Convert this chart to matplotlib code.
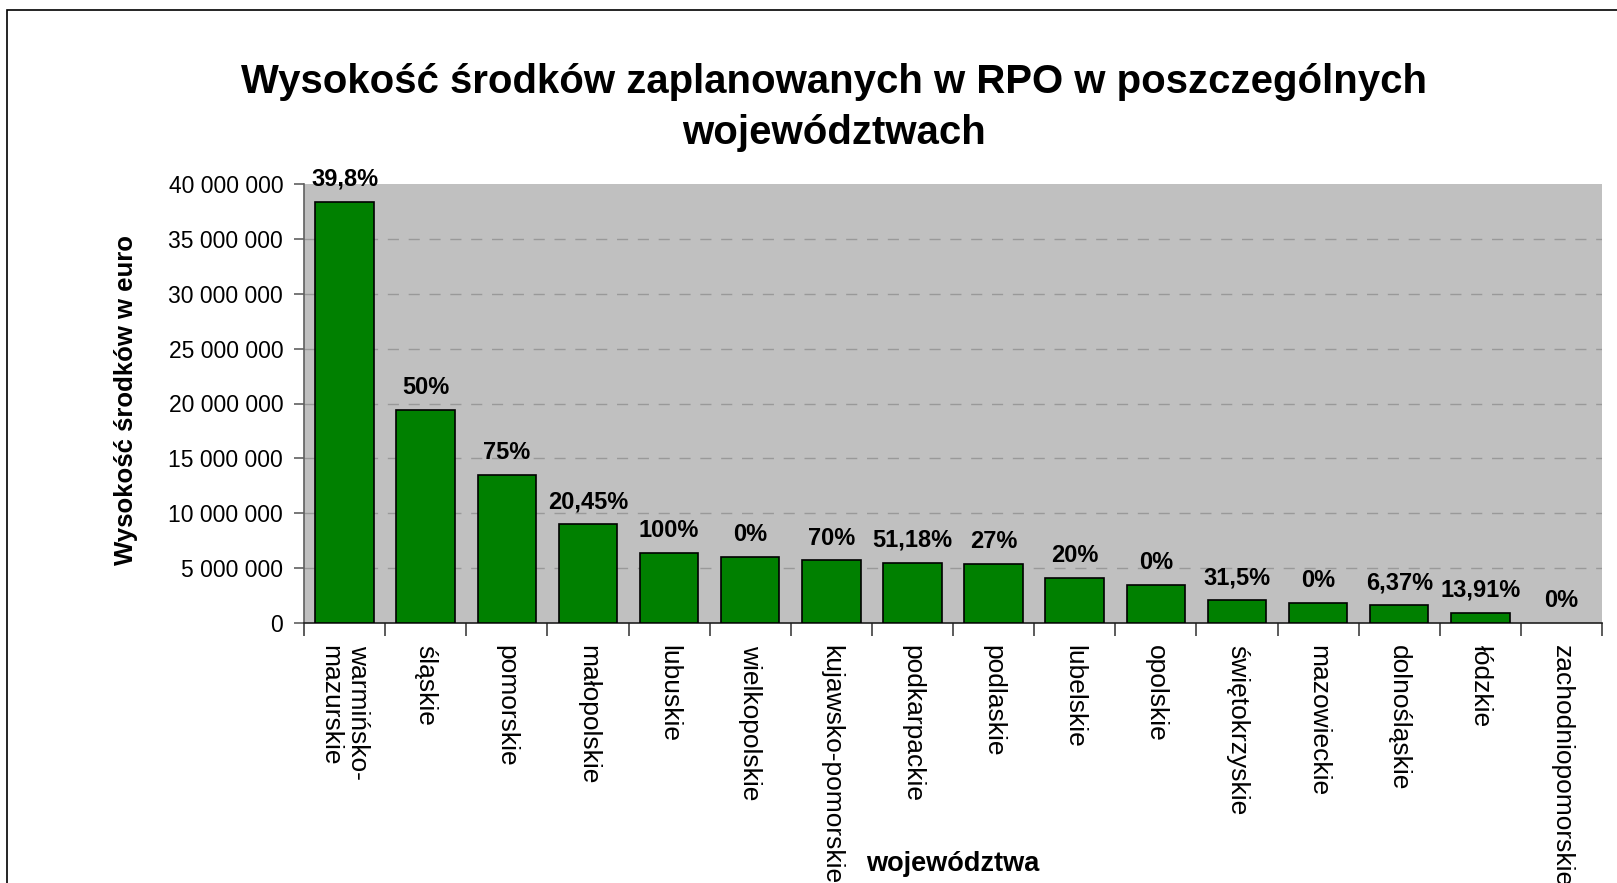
import matplotlib as mpl
mpl.use('Agg')

import matplotlib.pyplot as plt
from matplotlib.patches import Rectangle
from matplotlib.ticker import FuncFormatter, FixedLocator

plt.rcParams['font.family'] = ['Liberation Sans', 'DejaVu Sans']

regions = ["warmińsko-\nmazurskie", "śląskie", "pomorskie", "małopolskie",
           "lubuskie", "wielkopolskie", "kujawsko-pomorskie", "podkarpackie",
           "podlaskie", "lubelskie", "opolskie", "świętokrzyskie",
           "mazowieckie", "dolnośląskie", "łódzkie", "zachodniopomorskie"]
amounts = [38_400_000, 19_400_000, 13_500_000, 9_000_000,
           6_400_000, 6_000_000, 5_700_000, 5_500_000,
           5_400_000, 4_100_000, 3_500_000, 2_100_000,
           1_850_000, 1_650_000, 950_000, 0]
shares = ["39,8%", "50%", "75%", "20,45%", "100%", "0%", "70%", "51,18%",
          "27%", "20%", "0%", "31,5%", "0%", "6,37%", "13,91%", "0%"]
yticks = list(range(0, 40_000_001, 5_000_000))


def main():
    fig = plt.figure(figsize=(16.17, 8.83), dpi=100)
    ax = fig.add_axes([304 / 1617, 1 - 623 / 883, 1298 / 1617, 439 / 883])

    # outer chart frame (runs past the right and bottom edges)
    fig.patches.append(Rectangle((7 / 1617, -0.2), 1.2, 1.2 - 10 / 883,
                                 transform=fig.transFigure, fill=False,
                                 edgecolor='black', linewidth=1.2))

    x = list(range(len(regions)))
    ax.set_facecolor('#C0C0C0')
    edges = ['black' if v > 0 else 'none' for v in amounts]
    ax.bar(x, amounts, width=0.72, color='#008000', edgecolor=edges,
           linewidth=1.2, zorder=3)

    for xi, v, s in zip(x, amounts, shares):
        ax.annotate(s, (xi, v), xytext=(0, 16), textcoords='offset points',
                    ha='center', va='center', fontsize=17,
                    fontweight='bold', zorder=4)

    ax.set_xlim(-0.5, len(regions) - 0.5)
    ax.set_ylim(0, 40_000_000)
    ax.set_yticks(yticks)
    ax.yaxis.set_major_formatter(
        FuncFormatter(lambda v, p: f"{int(v):,}".replace(",", " ")))
    # dashed grid, none on the top edge
    for t in yticks[1:-1]:
        ax.axhline(t, linestyle=(0, (8, 7)), color='#999999',
                   linewidth=1.0, zorder=1)

    ax.set_xticks(x)
    ax.set_xticklabels(regions, rotation=-90, rotation_mode='anchor',
                       ha='left', va='center', fontsize=19)
    ax.tick_params(axis='x', which='major', length=0, pad=16)
    ax.xaxis.set_minor_locator(FixedLocator([i - 0.5 for i in range(len(regions) + 1)]))
    ax.tick_params(axis='x', which='minor', length=9, width=1.2,
                   color='#404040', direction='out')
    ax.tick_params(axis='y', length=7, width=1.2, color='#606060',
                   labelsize=16.5, pad=8)

    for side in ['top', 'right']:
        ax.spines[side].set_visible(False)
    ax.spines['left'].set_color('#606060')
    ax.spines['bottom'].set_color('#202020')
    for side in ['left', 'bottom']:
        ax.spines[side].set_linewidth(1.2)

    ax.set_ylabel("Wysokość środków w euro", fontsize=18.5, fontweight='bold')
    ax.yaxis.set_label_coords(138 / 1617, 1 - 400 / 883,
                              transform=fig.transFigure)

    fig.text(0.516, 1 - 82 / 883, "Wysokość środków zaplanowanych w RPO w poszczególnych",
             ha='center', va='center', fontsize=28.9, fontweight='bold')
    fig.text(0.516, 1 - 133 / 883, "województwach",
             ha='center', va='center', fontsize=28.9, fontweight='bold')
    fig.text(953 / 1617, 1 - 864 / 883, "województwa", ha='center',
             va='center', fontsize=19.5, fontweight='bold')

    fig.savefig('out.png', dpi=100)


if __name__ == '__main__':
    main()
